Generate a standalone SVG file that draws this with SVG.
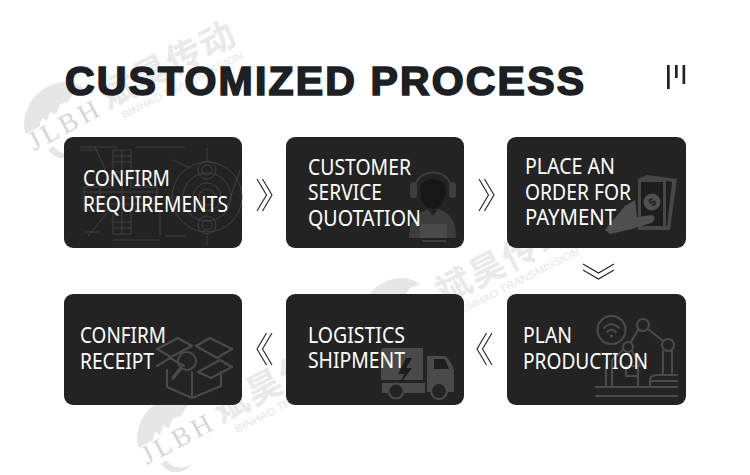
<svg xmlns="http://www.w3.org/2000/svg" width="750" height="475" viewBox="0 0 750 475">
<style>
.title{font-family:"Liberation Sans",Arial,sans-serif;font-weight:700;font-size:41px;fill:#1c1f24;stroke:#1c1f24;stroke-width:1.7px}
.label{font-family:"Noto Sans","Open Sans",sans-serif;font-size:21.5px;fill:#fff}
.card{fill:#232323}
.chev{fill:none;stroke:#222;stroke-width:1.1}
.ico{fill:none;stroke:#4a4a4a;stroke-width:2.1;stroke-linejoin:round;stroke-linecap:round}
.fil{fill:#4a4a4a}
.bp{fill:none;stroke:#4d4d4d;stroke-width:.7}
.wmc{font-family:"Noto Sans CJK SC",sans-serif;font-weight:700;font-size:35px;fill:#e9e9e9}
.wme{font-family:"Liberation Sans",Arial,sans-serif;font-size:10.5px;fill:#e6e6e6}
.wml{font-family:"Liberation Serif",serif;font-size:27px;fill:#d6d6d6}
</style>
<defs>
<g id="wm">
<path d="M84 88C62 72 26 90 24 124C24 128 25 131 26 134L40 126C40 122 41 120 43 118L47 121L50 112L56 114L60 104L68 102L74 92Z" fill="#e6e6e6"/>
<path d="M48 150C58 162 70 160 80 150C70 155 60 155 53 146Z" fill="#e6e6e6"/>
<text class="wml" transform="translate(34 151) rotate(-28)" textLength="76" lengthAdjust="spacing">JLBH</text>
<text class="wmc" transform="translate(108 109) rotate(-27)" textLength="146" lengthAdjust="spacing">斌昊传动</text>
<text class="wme" transform="translate(124 119) rotate(-27)" textLength="135" lengthAdjust="spacingAndGlyphs">BINHAO TRANSMISSION</text>
</g>
</defs>
<rect width="750" height="475" fill="#fff"/>
<g id="watermarks">
<use href="#wm"/>
<use href="#wm" transform="translate(336 196)"/>
<use href="#wm" transform="translate(113 314)"/>
</g>
<g id="heading">
<text class="title" x="65" y="95" textLength="519" lengthAdjust="spacing">CUSTOMIZED PROCESS</text>
<rect x="667" y="65" width="2.7" height="24" fill="#222"/>
<rect x="675" y="65" width="2.7" height="13" fill="#222"/>
<rect x="682.500" y="65" width="2.7" height="19" fill="#222"/>
</g>
<g id="connectors">
<path class="chev" d="M257 179L266.500 195L257 211M262.500 179L272 195L262.500 211"/>
<path class="chev" d="M479 179L488.500 195L479 211M484.500 179L494 195L484.500 211"/>
<path class="chev" d="M583 264L598.500 273L614 264M583 270L598.500 279L614 270"/>
<path class="chev" d="M272 333L262.500 349L272 365M266.500 333L257 349L266.500 365"/>
<path class="chev" d="M492 333L482.500 349L492 365M486.500 333L477 349L486.500 365"/>
</g>
<g id="node-confirm-requirements">
<rect class="card" x="64" y="137" width="178" height="111" rx="9"/>
<g class="bp">
<circle cx="207" cy="197" r="35"/><circle cx="207" cy="197" r="24"/><circle cx="207" cy="197" r="14"/><circle cx="207" cy="197" r="8"/>
<circle cx="207" cy="170" r="5"/><circle cx="207" cy="225" r="5"/><circle cx="207" cy="170" r="9"/><circle cx="207" cy="225" r="9"/>
<path d="M113 150H131V187H157V210H131V234H113V210H84V187H113Z"/>
<path d="M113 162H131M113 172H131M113 222H131M122 150V234M84 198H157M100 187V210M84 192H157M84 204H157M113 228H131M113 156H131"/>
<path d="M80 147H118M136 147H185M80 150H98M95 147L113 187M160 210V236M88 236L108 212M113 240H160M172 160L190 168M240 170L226 210M84 232H100M165 236H185M207 148V160M207 236V245"/>
</g>
<text class="label" x="83" y="186" textLength="87" lengthAdjust="spacingAndGlyphs">CONFIRM</text>
<text class="label" x="83" y="212" textLength="145" lengthAdjust="spacingAndGlyphs">REQUIREMENTS</text>
</g>
<g id="node-customer-service-quotation">
<rect class="card" x="286" y="137" width="178" height="111" rx="9"/>
<path d="M409 238C409 220 418 213 428 209L433 216L438 209C450 213 456 220 456 238Z" fill="#3c3c3c"/>
<path d="M415 189C415 167 451 167 451 189" fill="none" stroke="#3a3a3a" stroke-width="2"/>
<rect x="410" y="182" width="7" height="16" rx="3.500" fill="#3e3e3e"/><rect x="449" y="182" width="7" height="16" rx="3.500" fill="#3e3e3e"/>
<path d="M420 188C422 176 444 176 446 188C446 201 440 209 433 209C426 209 420 201 420 188Z" fill="#171717"/>
<rect x="420" y="224" width="27" height="14" fill="#4a4a4a"/><rect x="422" y="240" width="24" height="2" fill="#3e3e3e"/>
<text class="label" x="308" y="175" textLength="103" lengthAdjust="spacingAndGlyphs">CUSTOMER</text>
<text class="label" x="308" y="200" textLength="74" lengthAdjust="spacingAndGlyphs">SERVICE</text>
<text class="label" x="308" y="226" textLength="113" lengthAdjust="spacingAndGlyphs">QUOTATION</text>
</g>
<g id="node-place-order">
<rect class="card" x="507" y="137" width="179" height="111" rx="9"/>
<path d="M638 179L647 175L677 179L670 230H638Z" fill="#474747"/>
<path d="M641 182H663V226H641Z" fill="#1d1d1d"/><path d="M666 181L672 182L667 226H666Z" fill="#1d1d1d"/>
<circle cx="652" cy="202" r="8.500" fill="#505050"/>
<text x="652" y="206" font-family="Liberation Sans,sans-serif" font-size="11" font-weight="700" fill="#1e1e1e" text-anchor="middle" transform="rotate(-45 652 202)">$</text>
<path d="M605 230L625 206L635 200L637 217L652 215C656 216 655 222 651 223L632 229L610 234Z" fill="#505050"/>
<text class="label" x="525" y="174" textLength="90" lengthAdjust="spacingAndGlyphs">PLACE AN</text>
<text class="label" x="525" y="200" textLength="106" lengthAdjust="spacingAndGlyphs">ORDER FOR</text>
<text class="label" x="525" y="225" textLength="91" lengthAdjust="spacingAndGlyphs">PAYMENT</text>
</g>
<g id="node-plan-production">
<rect class="card" x="507" y="294" width="179" height="111" rx="9"/>
<g class="ico">
<circle cx="611.500" cy="330" r="14"/>
<path d="M604 328C608 323 615 323 619 328M607 332C610 329 613 329 616 332"/><circle cx="611.500" cy="336" r=".6"/>
<circle cx="643" cy="325" r="6"/><circle cx="668" cy="345" r="6"/><circle cx="628" cy="347" r="5"/>
<path d="M638 330L631 342M648 329L663 341M623 350L612 360V386M632 351L640 366M672 351V373M663 351V373M606 364V386M638 366V386"/>
<path d="M650 386V380C650 376 654 375 658 375H677M650 381H677"/>
<path d="M626 366H638V376H626Z"/>
<path d="M596 387H677M596 396H677"/>
</g>
<text class="label" x="523" y="343" textLength="49" lengthAdjust="spacingAndGlyphs">PLAN</text>
<text class="label" x="523" y="369" textLength="125" lengthAdjust="spacingAndGlyphs">PRODUCTION</text>
</g>
<g id="node-logistics-shipment">
<rect class="card" x="286" y="294" width="178" height="111" rx="9"/>
<path d="M381 351C381 349 382 348 384 348H423V380H381Z" class="fil"/>
<path d="M406 358L398 374H404L400 384L412 368H406L412 358Z" fill="#1c1c1c"/>
<path d="M427 356H444C447 356 451 362 454 370V392H427Z" class="fil"/>
<path d="M434 359H445L449 369H434Z" fill="#1f1f1f"/>
<rect x="382" y="383" width="43" height="10" class="fil"/>
<circle cx="396" cy="391" r="7.500" fill="#232323" stroke="#4a4a4a" stroke-width="2.200"/>
<circle cx="439" cy="391" r="8" fill="#232323" stroke="#4a4a4a" stroke-width="2.200"/>
<text class="label" x="308" y="343" textLength="97" lengthAdjust="spacingAndGlyphs">LOGISTICS</text>
<text class="label" x="308" y="368" textLength="97" lengthAdjust="spacingAndGlyphs">SHIPMENT</text>
</g>
<g id="node-confirm-receipt">
<rect class="card" x="64" y="294" width="178" height="111" rx="9"/>
<g class="ico">
<path d="M157 349L178 338L192 346L171 357Z"/><path d="M196 346L210 338L232 349L217 358Z"/>
<path d="M157 366L170 358L184 366M198 372L220 360L232 367L211 378Z"/>
<path d="M167 370V387L192 398L221 386V372M192 398V372"/>
<circle cx="187" cy="361" r="9"/><path d="M181 368L173 378" stroke-width="3.500"/>
</g>
<text class="label" x="80" y="343" textLength="86" lengthAdjust="spacingAndGlyphs">CONFIRM</text>
<text class="label" x="80" y="369" textLength="74" lengthAdjust="spacingAndGlyphs">RECEIPT</text>
</g>
</svg>
